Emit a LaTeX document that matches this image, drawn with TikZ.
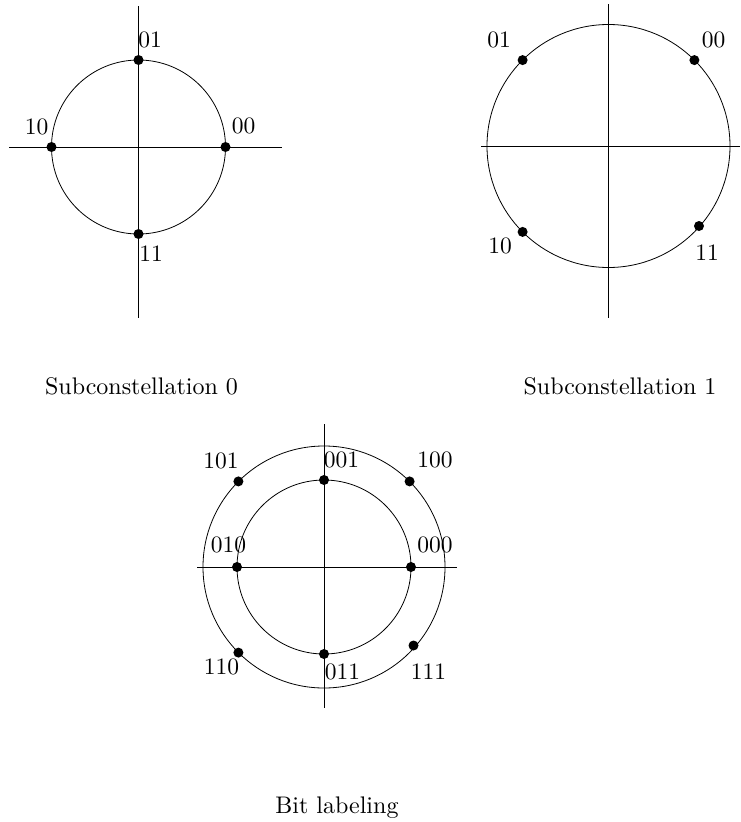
\documentclass[tikz,border=0pt]{standalone}
\tikzset{
  dot/.style={circle, fill=black, inner sep=0pt, minimum size=10pt},
  lbl/.style={inner sep=0pt},
  capt/.style={inner sep=0pt},
  ring/.style={line width=0.8pt},
  axis/.style={line width=0.95pt}
}
\newcommand{\lb}[1]{\scalebox{2.35}{#1}}
\newcommand{\ct}[1]{\scalebox{2.4}{#1}}
\begin{document}
\begin{tikzpicture}[x=1pt,y=-1pt]
\useasboundingbox (0,0) rectangle (741,822);

% ---------- Subconstellation 0 ----------
\coordinate (c0) at (138.5,147);
\coordinate (v0t) at (138.5,6);
\coordinate (v0b) at (138.5,318);
\coordinate (h0l) at (9,147);
\coordinate (h0r) at (282,147);
\draw[ring] (c0) circle (87);
\draw[axis] (v0t) -- (v0b);
\draw[axis] (h0l) -- (h0r);
\node[dot] (a00) at (225.5,147) {};
\node[dot] (a01) at (138.5,60) {};
\node[dot] (a10) at (51.5,147) {};
\node[dot] (a11) at (138.5,234) {};
\node[lbl] (la01) at (150,40) {\lb{01}};
\node[lbl] (la00) at (243.5,126) {\lb{00}};
\node[lbl] (la10) at (36.5,127) {\lb{10}};
\node[lbl] (la11) at (151,254) {\lb{11}};

% ---------- Subconstellation 1 ----------
\coordinate (c1) at (608.5,146);
\coordinate (v1t) at (608.5,4);
\coordinate (v1b) at (608.5,318);
\coordinate (h1l) at (481,146);
\coordinate (h1r) at (740,146);
\draw[ring] (c1) circle (121.5);
\draw[axis] (v1t) -- (v1b);
\draw[axis] (h1l) -- (h1r);
\node[dot] (b00) at (694.4,60.1) {};
\node[dot] (b01) at (522.6,60.1) {};
\node[dot] (b10) at (522.6,231.9) {};
\node[dot] (b11) at (699.0,226.0) {};
\node[lbl] (lb01) at (499,40) {\lb{01}};
\node[lbl] (lb00) at (713.5,40) {\lb{00}};
\node[lbl] (lb10) at (500,246) {\lb{10}};
\node[lbl] (lb11) at (707,253) {\lb{11}};

% ---------- Bit labeling ----------
\coordinate (c2) at (324,567);
\coordinate (v2t) at (324,424);
\coordinate (v2b) at (324,708);
\coordinate (h2l) at (197,567);
\coordinate (h2r) at (457,567);
\draw[ring] (c2) circle (87);
\draw[ring] (c2) circle (121);
\draw[axis] (v2t) -- (v2b);
\draw[axis] (h2l) -- (h2r);
\node[dot] (p000) at (411,567) {};
\node[dot] (p001) at (324,480) {};
\node[dot] (p010) at (237,567) {};
\node[dot] (p011) at (324,654) {};
\node[dot] (p100) at (409.6,481.4) {};
\node[dot] (p101) at (238.4,481.4) {};
\node[dot] (p110) at (238.4,652.6) {};
\node[dot] (p111) at (413.5,645.5) {};
\node[lbl] (l101) at (221,461) {\lb{101}};
\node[lbl] (l001) at (341.5,460) {\lb{001}};
\node[lbl] (l100) at (435,460) {\lb{100}};
\node[lbl] (l010) at (228.5,545) {\lb{010}};
\node[lbl] (l000) at (435,545) {\lb{000}};
\node[lbl] (l110) at (221.5,667) {\lb{110}};
\node[lbl] (l011) at (342.5,672) {\lb{011}};
\node[lbl] (l111) at (428.5,672) {\lb{111}};

% ---------- captions ----------
\node[capt, anchor=base] (cap0) at (141.5,394) {\ct{Subconstellation 0}};
\node[capt, anchor=base] (cap1) at (620,394) {\ct{Subconstellation 1}};
\node[capt, anchor=base] (cap2) at (337,813) {\ct{Bit labeling}};
\end{tikzpicture}
\end{document}
